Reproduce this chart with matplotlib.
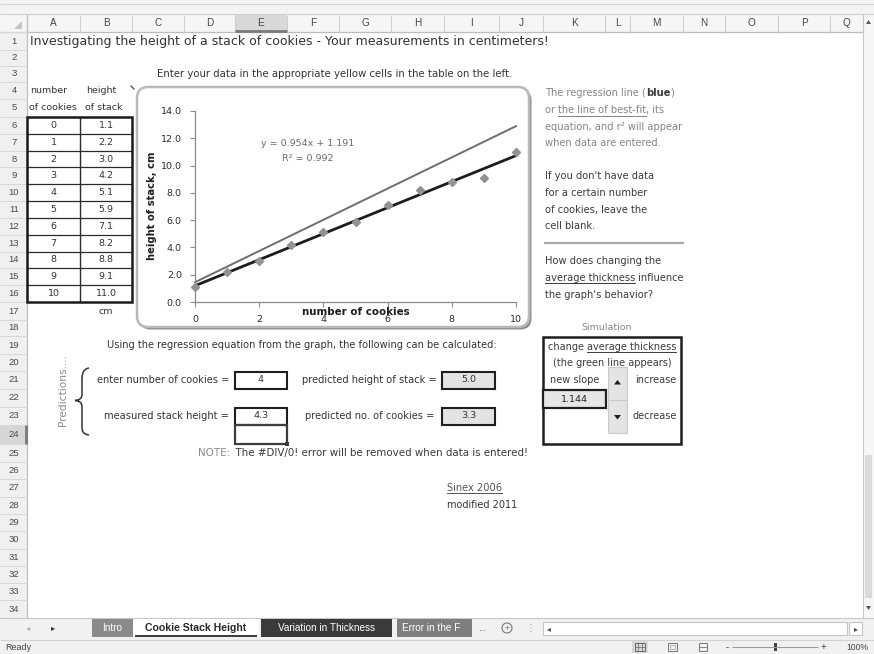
import numpy as np
import matplotlib
matplotlib.use("Agg")
import matplotlib.pyplot as plt
from matplotlib.patches import Rectangle, FancyBboxPatch, Polygon, PathPatch, Circle
from matplotlib.path import Path

# ---------------- data ----------------
cookies = [0, 1, 2, 3, 4, 5, 6, 7, 8, 9, 10]
stack_height = [1.1, 2.2, 3.0, 4.2, 5.1, 5.9, 7.1, 8.2, 8.8, 9.1, 11.0]

# trendline shown on the chart
fit_slope = 0.954
fit_intercept = 1.191
fit_r2 = 0.992

# simulated line for a changed average thickness
new_slope = 1.144
new_intercept = 1.45

# prediction inputs
entered_cookies = 4
measured_height = 4.3

x_ticks = [0, 2, 4, 6, 8, 10]
y_ticks = [0, 2, 4, 6, 8, 10, 12, 14]

column_letters = list("ABCDEFGHIJKLMNOPQ")
sheet_tabs = ["Intro", "Cookie Stack Height", "Variation in Thickness", "Error in the F"]

# ---------------- sheet geometry (pixels) ----------------
W, H = 874, 654
COL_EDGES = [27, 80, 132, 184, 235, 287, 339, 391, 444, 499, 543, 605, 630,
             683, 725, 778, 830, 863]
ROW_EDGES = ([32, 50, 66, 82, 99, 117]
             + list(np.linspace(117, 302, 12)[1:])
             + [320, 336, 354, 371, 389, 407, 425, 444, 462]
             + list(462 + 17.3 * np.arange(1, 10)))

BODY = ["DejaVu Sans"]
UI = ["Liberation Sans", "DejaVu Sans"]
TXT = 7.1  # body text size on the sheet


def rc(n):
    return (ROW_EDGES[n - 1] + ROW_EDGES[n]) / 2


def cc(letter):
    i = column_letters.index(letter)
    return (COL_EDGES[i] + COL_EDGES[i + 1]) / 2


fig = plt.figure(figsize=(W / 100, H / 100), dpi=100)
fig.patch.set_facecolor("white")
base = fig.add_axes([0, 0, 1, 1])
base.set_xlim(0, W)
base.set_ylim(H, 0)
base.axis("off")
renderer = fig.canvas.get_renderer()


def measure(s, size, weight="normal", family=BODY):
    a = base.text(0, 0, "|" + s + "|", fontsize=size, fontweight=weight, family=family)
    b = base.text(0, 0, "||", fontsize=size, fontweight=weight, family=family)
    w = a.get_window_extent(renderer).width - b.get_window_extent(renderer).width
    a.remove()
    b.remove()
    return w


def write(x, y, parts, size=TXT, color="#333333", ha="left", width=None,
          family=BODY, zorder=5, weight="normal"):
    if isinstance(parts, str):
        parts = [(parts, {"weight": weight})]
    ws = [measure(s, size, o.get("weight", "normal"), family) for s, o in parts]
    total = sum(ws)
    if width:
        k = width / total
        size *= k
        ws = [w * k for w in ws]
        total = width
    x0 = x - total / 2 if ha == "center" else (x - total if ha == "right" else x)
    for (s, o), w in zip(parts, ws):
        base.text(x0, y, s, fontsize=size, fontweight=o.get("weight", "normal"),
                  color=o.get("color", color), family=family, ha="left",
                  va="center", zorder=zorder)
        if o.get("underline"):
            base.plot([x0, x0 + w], [y + size * 0.78] * 2,
                      color=o.get("color", color), lw=0.7, zorder=zorder)
        x0 += w


def rect(x0, y0, x1, y1, fc="none", ec="none", lw=1.0, z=2):
    base.add_patch(Rectangle((x0, y0), x1 - x0, y1 - y0, facecolor=fc,
                             edgecolor=ec, linewidth=lw, zorder=z))


def hline(x0, x1, y, color, lw=1.0, z=3):
    base.plot([x0, x1], [y, y], color=color, lw=lw, zorder=z, solid_capstyle="butt")


def vline(x, y0, y1, color, lw=1.0, z=3):
    base.plot([x, x], [y0, y1], color=color, lw=lw, zorder=z, solid_capstyle="butt")


# ---------------- window chrome ----------------
rect(0, 0, W, 14, fc="#f3f3f3")
hline(0, W, 4, "#d6d6d6", 0.8)
hline(0, W, 14, "#cfcfcf", 0.8)

# column header row
rect(0, 14, 863, 32, fc="#f6f6f6")
hline(0, 863, 32, "#bdbdbd", 0.9)
base.add_patch(Polygon([[22, 21], [22, 29], [14, 29]], closed=True,
                       facecolor="#c4c4c4", edgecolor="none", zorder=3))
e_i = column_letters.index("E")
rect(COL_EDGES[e_i], 14, COL_EDGES[e_i + 1], 32, fc="#d9d9d9")
hline(COL_EDGES[e_i], COL_EDGES[e_i + 1], 31, "#7a7a7a", 2.0, z=4)
for xe in COL_EDGES:
    vline(xe, 16, 32, "#cfcfcf", 0.8)
for i, letter in enumerate(column_letters):
    write((COL_EDGES[i] + COL_EDGES[i + 1]) / 2, 23, letter, size=7.2,
          color="#444444", ha="center", family=UI)

# row header column
rect(0, 32, 27, ROW_EDGES[-1], fc="#f0f0f0")
rect(0, ROW_EDGES[23], 27, ROW_EDGES[24], fc="#d6d6d6")
vline(27, 14, ROW_EDGES[-1], "#bdbdbd", 0.9)
vline(26, ROW_EDGES[23], ROW_EDGES[24], "#7a7a7a", 2.0, z=4)
for ye in ROW_EDGES:
    hline(0, 27, ye, "#d8d8d8", 0.7)
for n in range(1, 35):
    write(14, rc(n), str(n), size=6.8, color="#4a4a4a", ha="center", family=UI)

# vertical scroll bar
rect(863, 14, W, 618, fc="#f7f7f7")
vline(863, 14, 618, "#c8c8c8", 0.8)
rect(865, 455, 872, 598, fc="#dadada")
base.add_patch(Polygon([[866, 24], [871, 24], [868.5, 20]], closed=True,
                       facecolor="#555555", zorder=4))
base.add_patch(Polygon([[866, 606], [871, 606], [868.5, 610]], closed=True,
                       facecolor="#555555", zorder=4))

# ---------------- sheet content ----------------
write(30, rc(1), "Investigating the height of a stack of cookies - Your measurements in centimeters!",
      size=8, color="#333333", width=520)
write(157, rc(3), "Enter your data in the appropriate yellow cells in the table on the left.",
      size=6.5, color="#333333", width=356)

# data table
write(49, rc(4), "number", size=6.8, ha="center")
write(101, rc(4), "height", size=6.8, ha="center")
write(53, rc(5), "of cookies", size=6.8, ha="center")
write(104, rc(5), "of stack", size=6.8, ha="center")
base.plot([131, 134], [86, 89], color="#444444", lw=0.9, zorder=4)
t_top, t_bot = ROW_EDGES[5], ROW_EDGES[16]
for k in range(6, 16):
    hline(27, 132, ROW_EDGES[k], "#2a2a2a", 0.9)
vline(80, t_top, t_bot, "#2a2a2a", 1.0)
rect(27, t_top, 132, t_bot, ec="#1a1a1a", lw=1.8, z=4)
for i, (c, h) in enumerate(zip(cookies, stack_height)):
    write(cc("A"), rc(6 + i), f"{c}", size=6.8, ha="center")
    write(cc("B"), rc(6 + i), f"{h:.1f}", size=6.8, ha="center")
write(cc("B"), rc(17), "cm", size=6.8, ha="center")

# chart frame
base.add_patch(FancyBboxPatch((139.5, 89.5), 392, 240,
                              boxstyle="round,pad=0,rounding_size=11",
                              facecolor="#8c8c8c", edgecolor="none", zorder=1))
base.add_patch(FancyBboxPatch((137, 87), 392, 240,
                              boxstyle="round,pad=0,rounding_size=11",
                              facecolor="white", edgecolor="#b9b9b9",
                              linewidth=1.8, zorder=1.5))

# right-hand notes
GRAY = "#858585"
DARK = "#3a3a3a"
write(545, rc(4) + 2, [("The regression line (", {}), ("blue", {"weight": "bold", "color": DARK}),
                       (")", {})], color=GRAY)
write(545, rc(5) + 2, [("or ", {}), ("the line of best-fit", {"underline": True}),
                       (", its", {})], color=GRAY)
write(545, rc(6) + 2, "equation, and r² will appear", color=GRAY)
write(545, rc(7) + 1, "when data are entered.", color=GRAY)
write(545, rc(9), "If you don't have data", color=DARK)
write(545, rc(10), "for a certain number", color=DARK)
write(545, rc(11), "of cookies, leave the", color=DARK)
write(545, rc(12), "cell blank.", color=DARK)
hline(544, 684, 243, "#a8a8a8", 1.6)
write(545, rc(14) + 1, "How does changing the", color=DARK)
write(545, rc(15) + 1, [("average thickness", {"underline": True}), (" influence", {})],
      color=DARK)
write(545, rc(16) + 1, "the graph's behavior?", color=DARK)
write(607, rc(18), "Simulation", size=6.8, color=GRAY, ha="center")

# simulation panel
rect(543, 337, 681, 444, ec="#1e1e1e", lw=1.8, z=4)
write(612, rc(19) + 2, [("change ", {}), ("average thickness", {"underline": True})],
      size=7.0, color=DARK, ha="center")
write(612, rc(20) + 1, "(the green line appears)", size=7.0, color=DARK, ha="center")
write(575, rc(21), "new slope", size=7.0, color=DARK, ha="center")
rect(543, 390, 606, 408, fc="#e6e6e6", ec="#1e1e1e", lw=1.6, z=4)
write(574.5, 399, f"{new_slope:.3f}", size=6.8, color="#222222", ha="center")
rect(608, 367, 627, 433, fc="#e4e4e4", ec="#c9c9c9", lw=0.8, z=4)
hline(608, 627, 400, "#c9c9c9", 0.8, z=5)
base.add_patch(Polygon([[614, 384.5], [621, 384.5], [617.5, 380]], closed=True,
                       facecolor="#1e1e1e", zorder=6))
base.add_patch(Polygon([[614, 415], [621, 415], [617.5, 419.5]], closed=True,
                       facecolor="#1e1e1e", zorder=6))
write(656, rc(21), "increase", size=7.0, color=DARK, ha="center")
write(655, rc(23), "decrease", size=7.0, color=DARK, ha="center")

# predictions block
write(107, rc(19), "Using the regression equation from the graph, the following can be calculated:",
      size=6.5, color="#333333", width=391)
base.text(63, 390, "Predictions....", rotation=90, fontsize=7.6, color="#8a8a8a",
          family=BODY, ha="center", va="center", zorder=5)
brace = Path([(89, 368), (83, 369), (82, 374), (82, 380), (82, 394),
              (82, 399), (79, 400), (75, 400.5), (79, 401), (82, 402), (82, 407),
              (82, 426), (82, 432), (83, 434), (89, 435)],
             [Path.MOVETO, Path.CURVE4, Path.CURVE4, Path.CURVE4, Path.LINETO,
              Path.CURVE4, Path.CURVE4, Path.CURVE4, Path.CURVE4, Path.CURVE4, Path.CURVE4,
              Path.LINETO, Path.CURVE4, Path.CURVE4, Path.CURVE4])
base.add_patch(PathPatch(brace, facecolor="none", edgecolor="#333333", lw=1.1, zorder=5))

predicted_height = fit_slope * entered_cookies + fit_intercept
predicted_cookies = (measured_height - fit_intercept) / fit_slope

write(229, rc(21), "enter number of cookies =", ha="right")
rect(235, 372, 287, 389, fc="white", ec="#1e1e1e", lw=1.5, z=4)
write(261, rc(21), f"{entered_cookies}", size=6.8, ha="center")
write(437, rc(21), "predicted height of stack =", ha="right")
rect(442, 372, 495, 389, fc="#e3e3e3", ec="#1e1e1e", lw=1.5, z=4)
write(468.5, rc(21), f"{predicted_height:.1f}", size=6.8, ha="center")

write(229, rc(23), "measured stack height =", ha="right")
rect(235, 408, 287, 425, fc="white", ec="#1e1e1e", lw=1.5, z=4)
write(261, rc(23), f"{measured_height}", size=6.8, ha="center")
write(434, rc(23), "predicted no. of cookies =", ha="right")
rect(442, 408, 495, 425, fc="#e3e3e3", ec="#1e1e1e", lw=1.5, z=4)
write(468.5, rc(23), f"{predicted_cookies:.1f}", size=6.8, ha="center")

# active cell E24
rect(235, 425, 287, 444, ec="#3c3c3c", lw=1.6, z=5)
rect(285, 442, 289, 446, fc="#3c3c3c", z=6)

write(198, rc(25), [("NOTE:", {"color": "#8a8a8a"}),
                    ("  The #DIV/0! error will be removed when data is entered!", {})],
      size=6.5, color="#3a3a3a", width=332)

write(447, rc(27), [("Sinex 2006", {"underline": True})], color="#555555")
write(447, rc(28), "modified 2011", size=7.0, color="#333333")

# ---------------- sheet tabs and status bar ----------------
rect(0, 618, W, 640, fc="#f1f1f1")
hline(0, W, 618, "#c6c6c6", 0.8)
write(28, 628, "◂", size=6, color="#b0b0b0", ha="center")
write(53, 628, "▸", size=6, color="#333333", ha="center")
tab_spans = [(92, 133), (133, 259), (261, 392), (397, 472)]
tab_fills = ["#8a8a8a", "white", "#3a3a3a", "#7e7e7e"]
tab_text = ["white", "#2a2a2a", "white", "white"]
for name, (x0, x1), fc, tc in zip(sheet_tabs, tab_spans, tab_fills, tab_text):
    rect(x0, 619, x1, 637, fc=fc, z=3)
    active = fc == "white"
    clipped = name.startswith("Error")
    write(x0 + 5 if clipped else (x0 + x1) / 2, 628, name,
          size=7.6 if active else 7.2, color=tc,
          ha="left" if clipped else "center", family=UI,
          weight="bold" if active else "normal")
    if active:
        hline(x0 + 2, x1 - 2, 636, "#3a3a3a", 1.4, z=4)
write(482, 628, "...", size=7, color="#555555", ha="center", family=UI)
base.add_patch(Circle((507, 628), 5, facecolor="none", edgecolor="#777777", lw=0.8, zorder=4))
write(507, 628, "+", size=6.5, color="#777777", ha="center", family=UI)
write(530, 628, "⋮", size=7, color="#aaaaaa", ha="center")
rect(543, 622, 847, 635, fc="white", ec="#c6c6c6", lw=0.8)
write(549, 628.5, "◂", size=5.5, color="#444444", ha="center")
rect(849, 622, 862, 635, fc="white", ec="#c6c6c6", lw=0.8)
write(855.5, 628.5, "▸", size=5.5, color="#444444", ha="center")

rect(0, 640, W, H, fc="#f1f1f1")
hline(0, W, 640, "#d2d2d2", 0.8)
write(5, 647, "Ready", size=6.5, color="#444444", family=UI)
rect(632, 641, 648, 653, fc="#d8d8d8")
rect(635, 643, 645, 651, ec="#666666", lw=0.7, z=3)
vline(638.3, 643, 651, "#666666", 0.5)
vline(641.6, 643, 651, "#666666", 0.5)
hline(635, 645, 647, "#666666", 0.5)
rect(668, 643, 677, 651, ec="#777777", lw=0.7, z=3)
rect(670, 645, 675, 649, ec="#999999", lw=0.5, z=3)
rect(699, 643, 707, 651, ec="#777777", lw=0.7, z=3)
hline(699, 707, 647, "#777777", 0.6)
write(727, 647, "-", size=7, color="#444444", ha="center", family=UI)
hline(732, 818, 647, "#9a9a9a", 0.8)
rect(774, 643, 776.5, 651, fc="#444444")
write(823, 647, "+", size=7, color="#444444", ha="center", family=UI)
write(857, 647, "100%", size=6.2, color="#444444", ha="center", family=UI)

# ---------------- scatter chart ----------------
ax = fig.add_axes([195 / W, 1 - 302 / H, (516 - 195) / W, (302 - 111) / H])
ax.set_xlim(0, 10)
ax.set_ylim(0, 14)
ax.patch.set_alpha(0)
for s in ("top", "right"):
    ax.spines[s].set_visible(False)
for s in ("left", "bottom"):
    ax.spines[s].set_color("#8a8a8a")
    ax.spines[s].set_linewidth(0.9)
ax.set_xticks(x_ticks)
ax.set_yticks(y_ticks)
ax.set_xticklabels([str(v) for v in x_ticks], family=BODY)
ax.set_yticklabels([f"{v:.1f}" for v in y_ticks], family=BODY)
ax.tick_params(direction="out", length=3.5, width=0.8, color="#8a8a8a",
               labelsize=6.8, labelcolor="#2a2a2a", pad=6)

xs = np.array([cookies[0], cookies[-1]], dtype=float)
ax.plot(xs, new_slope * xs + new_intercept, color="#6e6e6e", lw=1.4,
        clip_on=False, zorder=2)
ax.plot(xs, fit_slope * xs + fit_intercept, color="#1c1c1c", lw=2.0,
        clip_on=False, zorder=3)
ax.plot(cookies, stack_height, linestyle="none", marker="D", ms=4.3,
        color="#929292", mec="#929292", clip_on=False, zorder=4)

ax.text(3.5, 11.65, f"y = {fit_slope}x + {fit_intercept}", ha="center", va="center",
        fontsize=6.8, color="#6a6a6a", family=BODY)
ax.text(3.5, 10.5, f"R² = {fit_r2}", ha="center", va="center",
        fontsize=6.8, color="#6a6a6a", family=BODY)

ax.text(356, 312, "number of cookies", transform=base.transData, ha="center",
        va="center", fontsize=7.4, fontweight="bold", color="#1e1e1e",
        family=BODY, zorder=10)
ax.text(152, 206, "height of stack, cm", transform=base.transData, ha="center",
        va="center", rotation=90, fontsize=7.2, fontweight="bold",
        color="#1e1e1e", family=BODY, zorder=10)

fig.savefig("out.png", dpi=100, facecolor="white")
